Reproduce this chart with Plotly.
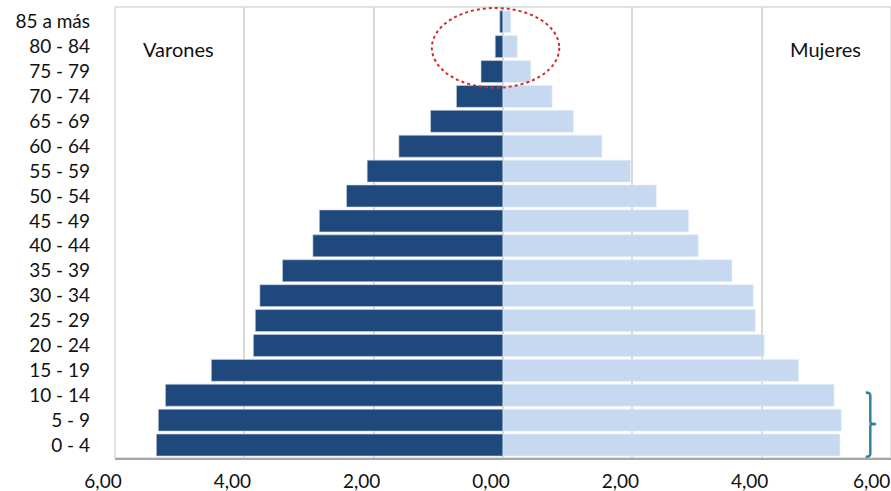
import plotly.graph_objects as go

# Age groups, youngest first (bottom of the pyramid)
age_groups = ["0 - 4", "5 - 9", "10 - 14", "15 - 19", "20 - 24", "25 - 29",
              "30 - 34", "35 - 39", "40 - 44", "45 - 49", "50 - 54", "55 - 59",
              "60 - 64", "65 - 69", "70 - 74", "75 - 79", "80 - 84", "85 a más"]

# Share of population (%) by sex
varones = [5.36, 5.33, 5.22, 4.51, 3.86, 3.83, 3.76, 3.41, 2.94, 2.84,
           2.42, 2.10, 1.61, 1.12, 0.72, 0.34, 0.12, 0.05]
mujeres = [5.21, 5.23, 5.12, 4.57, 4.04, 3.90, 3.87, 3.54, 3.02, 2.87,
           2.37, 1.97, 1.53, 1.09, 0.76, 0.43, 0.22, 0.12]

tick_values = [-6, -4, -2, 0, 2, 4, 6]
tick_labels = ["6,00", "4,00", "2,00", "0,00", "2,00", "4,00", "6,00"]

MALE = "#1F497D"
FEMALE = "#C6D9F1"
FONT = "Lato"
TEXT = "#111111"
TICK_SIZE = 19
TICK_STANDOFF = 5

fig = go.Figure()
fig.add_trace(go.Bar(
    y=age_groups, x=[-v for v in varones], orientation="h",
    name="Varones", marker=dict(color=MALE, line=dict(width=0.6, color="#c9d3e0")),
))
fig.add_trace(go.Bar(
    y=age_groups, x=mujeres, orientation="h",
    name="Mujeres", marker=dict(color=FEMALE, line=dict(width=0.6, color="#e6eef8")),
))

fig.update_layout(
    width=891, height=491,
    margin=dict(l=115, r=0, t=7, b=33),
    barmode="relative", bargap=0.12,
    showlegend=False,
    plot_bgcolor="white", paper_bgcolor="white",
    font=dict(family=FONT, size=TICK_SIZE, color=TEXT),
)

# the last tick label sits at the right edge, so it is drawn right-aligned separately
fig.update_xaxes(
    range=[-6, 6], tickvals=tick_values,
    ticktext=tick_labels[:-1] + [""],
    showgrid=True, gridcolor="#d9d9d9", gridwidth=2,
    zeroline=True, zerolinecolor="#d9d9d9", zerolinewidth=2,
    showline=True, linecolor="#a6a6a6", linewidth=2,
    ticks="", ticklabelshift=-12, ticklabelstandoff=TICK_STANDOFF,
    tickfont=dict(family=FONT, size=TICK_SIZE, color=TEXT),
    automargin=False,
)
fig.add_annotation(text=tick_labels[-1], xref="x", yref="paper",
                   x=tick_values[-1], y=0, xanchor="right", yanchor="top",
                   yshift=-(TICK_STANDOFF + 5), borderpad=0, showarrow=False,
                   font=dict(family=FONT, size=TICK_SIZE, color=TEXT))

fig.update_yaxes(
    type="category", categoryorder="array", categoryarray=age_groups,
    showgrid=False, ticks="", showline=False,
    ticklabelstandoff=24,
    tickfont=dict(family=FONT, size=TICK_SIZE, color=TEXT),
    automargin=False,
)

# light frame around the plotting area
fig.add_shape(type="rect", xref="paper", yref="paper", x0=0, x1=1, y0=0, y1=1,
              line=dict(color="#d9d9d9", width=1.5), layer="below")

# series labels
fig.add_annotation(text="Varones", xref="x", yref="y", x=-5.02, y=15.9,
                   showarrow=False, font=dict(family=FONT, size=20, color=TEXT))
fig.add_annotation(text="Mujeres", xref="x", yref="y", x=4.98, y=15.9,
                   showarrow=False, bgcolor="white", borderpad=24,
                   font=dict(family=FONT, size=20, color=TEXT))

# dashed ellipse highlighting the oldest groups
fig.add_shape(type="circle", xref="x", yref="y",
              x0=-1.10, x1=0.87, y0=14.35, y1=17.55,
              line=dict(color="#d42a2a", width=2, dash="dot"))

# bracket beside the youngest groups
bx, bl, br = 5.68, 5.61, 5.77
y_top, y_bot, y_mid = 2.11, -0.47, 0.85
bracket = (f"M {bl},{y_top} Q {bx},{y_top} {bx},{y_top - 0.12} "
           f"L {bx},{y_mid + 0.08} Q {bx},{y_mid} {br},{y_mid} "
           f"Q {bx},{y_mid} {bx},{y_mid - 0.08} "
           f"L {bx},{y_bot + 0.12} Q {bx},{y_bot} {bl},{y_bot}")
fig.add_shape(type="path", xref="x", yref="y", path=bracket,
              line=dict(color="#31849B", width=2.5))

fig.write_html("out.html")
